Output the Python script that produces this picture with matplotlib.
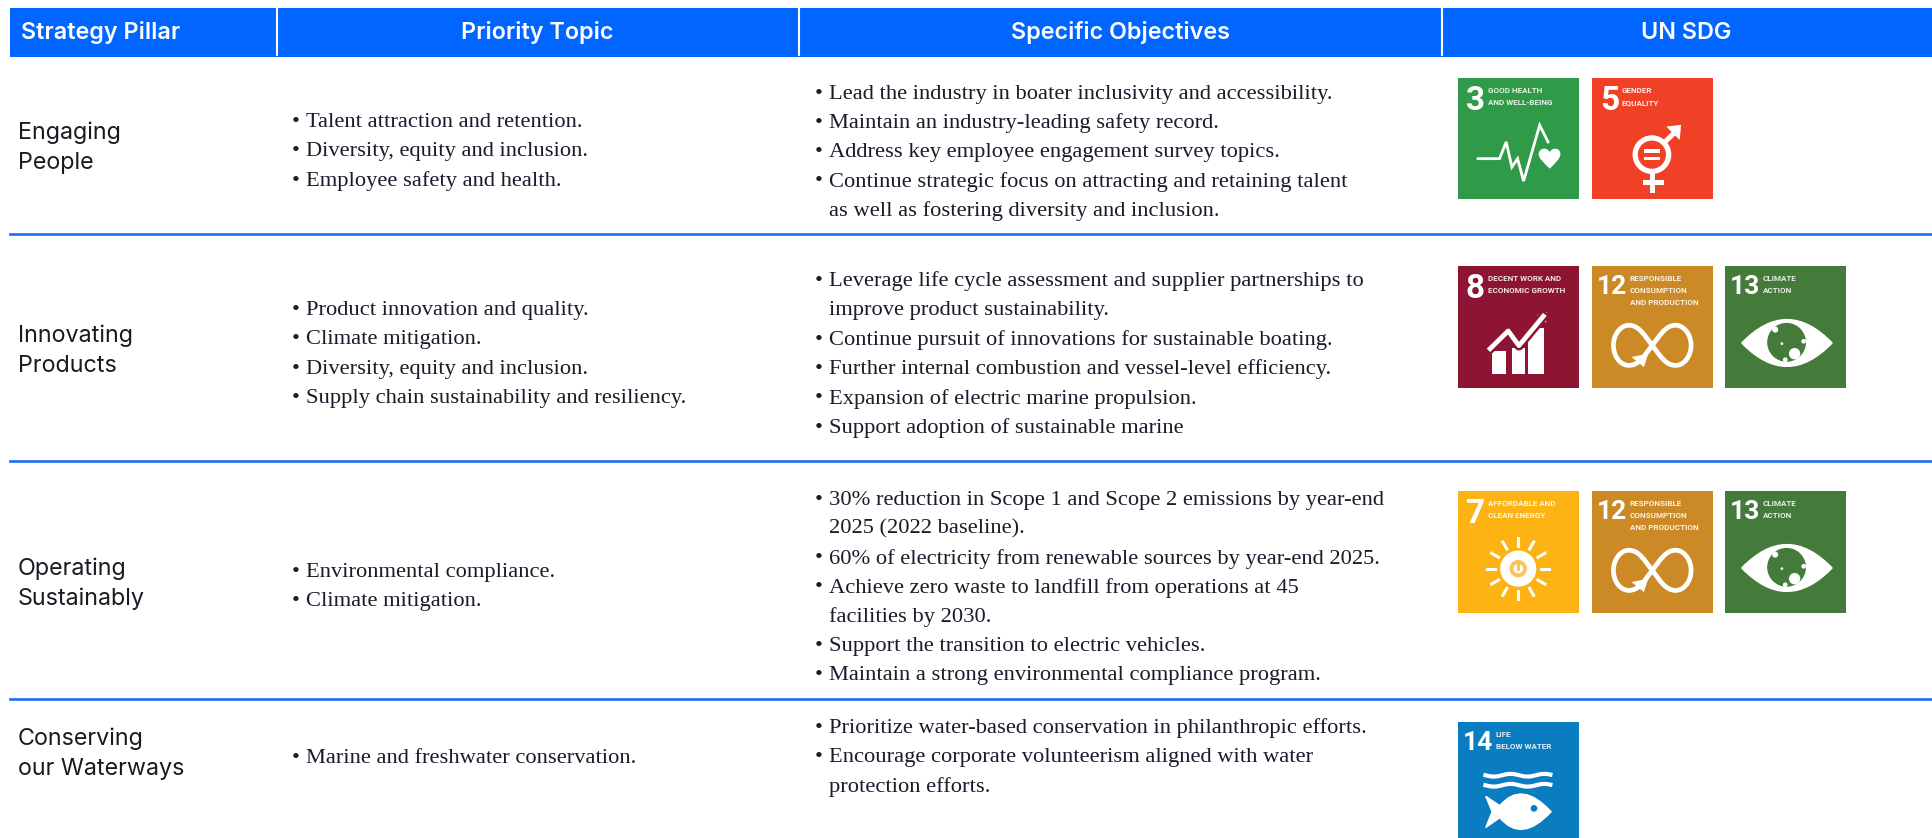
"""UN SDG strategy table, drawn in pixel coordinates of the 1933x838 original."""
import numpy as np
import matplotlib
matplotlib.use("Agg")
import matplotlib.pyplot as plt
from matplotlib.patches import Circle, PathPatch, Polygon, Rectangle
from matplotlib.path import Path
from matplotlib.transforms import Affine2D

W, H = 1933, 838
BLUE = "#0066ff"
INK = "#1b1b2b"
SERIF = "Liberation Serif"
SANS = "Inter"
BODY = 16.2

HEADERS = ["Strategy Pillar", "Priority Topic", "Specific Objectives", "UN SDG"]
PILLARS = [["Engaging", "People"], ["Innovating", "Products"],
           ["Operating", "Sustainably"], ["Conserving", "our Waterways"]]
TOPICS = [
    ["Talent attraction and retention.", "Diversity, equity and inclusion.",
     "Employee safety and health."],
    ["Product innovation and quality.", "Climate mitigation.",
     "Diversity, equity and inclusion.", "Supply chain sustainability and resiliency."],
    ["Environmental compliance.", "Climate mitigation."],
    ["Marine and freshwater conservation."],
]
# a leading "-" marks a wrapped line, with no bullet
OBJECTIVES = [
    ["Lead the industry in boater inclusivity and accessibility.",
     "Maintain an industry-leading safety record.",
     "Address key employee engagement survey topics.",
     "Continue strategic focus on attracting and retaining talent",
     "-as well as fostering diversity and inclusion."],
    ["Leverage life cycle assessment and supplier partnerships to",
     "-improve product sustainability.",
     "Continue pursuit of innovations for sustainable boating.",
     "Further internal combustion and vessel-level efficiency.",
     "Expansion of electric marine propulsion.",
     "Support adoption of sustainable marine"],
    ["30% reduction in Scope 1 and Scope 2 emissions by year-end",
     "-2025 (2022 baseline).",
     "60% of electricity from renewable sources by year-end 2025.",
     "Achieve zero waste to landfill from operations at 45",
     "-facilities by 2030.",
     "Support the transition to electric vehicles.",
     "Maintain a strong environmental compliance program."],
    ["Prioritize water-based conservation in philanthropic efforts.",
     "Encourage corporate volunteerism aligned with water",
     "-protection efforts."],
]
PILLAR_Y = [133, 336, 569, 739]
TOPIC_Y = [122.5, 310.5, 572.5, 758.5]
OBJECTIVE_Y = [94, 281.5, 500, 728.5]
ROW_LINES = [234, 461, 699]
SEPARATORS = [277, 799, 1442]
HEADER_X = [21, 537, 1121, 1686]

SDG_ROWS = [[3, 5], [8, 12, 13], [7, 12, 13], [14]]
SDG_TOP = [78, 266, 491, 722]
SDG_X = [1458, 1592, 1725]
SDG_COLOR = {3: "#2f9a47", 5: "#f04126", 7: "#fdb313", 8: "#8e1433",
             12: "#cb8a26", 13: "#447a3a", 14: "#0a7dc1"}
SDG_TEXT = {3: "GOOD HEALTH\nAND WELL-BEING", 5: "GENDER\nEQUALITY",
            7: "AFFORDABLE AND\nCLEAN ENERGY", 8: "DECENT WORK AND\nECONOMIC GROWTH",
            12: "RESPONSIBLE\nCONSUMPTION\nAND PRODUCTION", 13: "CLIMATE\nACTION",
            14: "LIFE\nBELOW WATER"}

C4 = Path.CURVE4


def icon_health(ax, tr, col):
    ax.plot([60, 124, 144, 161, 178, 196, 244, 269], [241, 241, 191, 266, 241, 308, 141, 191],
            color="white", lw=2, transform=tr, solid_joinstyle="miter")
    pts = [(274, 271), (255, 252), (241, 240), (241, 228), (241, 216), (250, 211), (258, 211),
           (265, 211), (272, 216), (274, 222), (276, 216), (283, 211), (290, 211),
           (298, 211), (306, 216), (306, 228), (306, 240), (293, 252), (274, 271)]
    heart = Path(pts, [Path.MOVETO] + [C4] * 18)
    ax.add_patch(PathPatch(heart, fc="white", ec="none", transform=tr))


def icon_gender(ax, tr, col):
    ax.add_patch(Circle((179, 229), 50, fc="none", ec="white", lw=3.8, transform=tr))
    for y in (218, 240):
        ax.add_patch(Rectangle((155, y - 5), 48, 10, fc="white", transform=tr))
    ax.plot([215, 255], [194, 155], color="white", lw=3.6, transform=tr)
    ax.add_patch(Polygon([[222, 145], [266, 140], [262, 185]], fc="white", transform=tr))
    ax.plot([180, 180], [280, 335], color="white", lw=3.6, transform=tr)
    ax.plot([158, 205], [310, 310], color="white", lw=3.6, transform=tr)


def icon_growth(ax, tr, col):
    for x, top, w in [(103, 255, 40), (160, 245, 40), (208, 185, 48)]:
        ax.add_patch(Rectangle((x, top), w, 322 - top, fc="white", transform=tr))
    ax.plot([96, 150, 182, 255], [247, 194, 238, 150], color=col, lw=7, transform=tr)
    ax.plot([96, 150, 182, 255], [247, 194, 238, 150], color="white", lw=3.4, transform=tr)
    ax.add_patch(Polygon([[236, 147], [266, 137], [263, 170]], fc="white", transform=tr))


def icon_infinity(ax, tr, col):
    pts = [(180, 237), (155, 205), (140, 177), (110, 177), (85, 177), (64, 205), (64, 237),
           (64, 270), (85, 297), (110, 297), (140, 297), (155, 270), (180, 237),
           (205, 205), (220, 177), (250, 177), (275, 177), (296, 205), (296, 237),
           (296, 270), (275, 297), (250, 297), (220, 297), (205, 270), (180, 237)]
    ax.add_patch(PathPatch(Path(pts, [Path.MOVETO] + [C4] * 24), fc="none", ec="white",
                           lw=3.4, transform=tr))
    ax.add_patch(Polygon([[118, 272], [168, 262], [155, 302]], fc="white", transform=tr))


def icon_eye(ax, tr, col):
    pts = [(50, 230), (185, 90), (320, 230), (185, 370), (50, 230)]
    codes = [Path.MOVETO, Path.CURVE3, Path.CURVE3, Path.CURVE3, Path.CURVE3]
    ax.add_patch(PathPatch(Path(pts, codes), fc="white", ec="white", transform=tr))
    ax.add_patch(Circle((184, 228), 58, fc=col, transform=tr))
    for x, y, r in [(208, 262, 17), (150, 190, 9), (235, 225, 7), (180, 280, 7), (170, 232, 4)]:
        ax.add_patch(Circle((x, y), r, fc="white", transform=tr))


def icon_sun(ax, tr, col):
    ax.add_patch(Circle((180, 232), 54, fc="white", transform=tr))
    ax.add_patch(Circle((180, 232), 26, fc="#fbc35a", ec="none", transform=tr))
    ax.add_patch(Circle((180, 232), 14, fc="white", ec="none", transform=tr))
    ax.plot([180, 180], [212, 232], color="#fbc35a", lw=2.2, transform=tr)
    for a in np.deg2rad(np.arange(0, 360, 30)):
        ax.plot([180 + 68 * np.cos(a), 180 + 92 * np.cos(a)],
                [232 + 68 * np.sin(a), 232 + 92 * np.sin(a)],
                color="white", lw=2.2, transform=tr)


def icon_fish(ax, tr, col):
    wave = np.linspace(82, 276, 60)
    for y in (159, 189):
        ax.plot(wave, y + 4 * np.sin((wave - 82) / 16), color="white", lw=3, transform=tr)
    pts = [(83, 222), (125, 250), (190, 172), (278, 268), (190, 364), (125, 286), (83, 315), (102, 268), (83, 222)]
    codes = [Path.MOVETO, Path.LINETO, Path.CURVE3, Path.CURVE3, Path.CURVE3, Path.CURVE3,
             Path.LINETO, Path.LINETO, Path.LINETO]
    ax.add_patch(PathPatch(Path(pts, codes), fc="white", ec="white", transform=tr))
    ax.add_patch(Circle((227, 258), 10, fc=col, transform=tr))


ICONS = {3: icon_health, 5: icon_gender, 7: icon_sun, 8: icon_growth,
         12: icon_infinity, 13: icon_eye, 14: icon_fish}


def draw_tile(ax, n, x0, y0):
    size = 121.5
    col = SDG_COLOR[n]
    ax.add_patch(Rectangle((x0, y0), size, size, fc=col, ec="none"))
    two = n > 9
    ax.text(x0 + (5 if two else 8), y0 + (9 if two else 7), str(n), color="white",
            fontsize=19 if two else 24, va="top", family="Roboto", fontweight="bold")
    ax.text(x0 + (38 if two else 30), y0 + 9, SDG_TEXT[n], color="white", fontsize=5.8,
            va="top", family="Roboto", fontweight="bold", linespacing=1.8, alpha=0.88)
    tr = Affine2D().scale(size / 363).translate(x0, y0) + ax.transData
    ICONS[n](ax, tr, col)


fig = plt.figure(figsize=(W / 100, H / 100), dpi=100)
ax = fig.add_axes([0, 0, 1, 1])
ax.set_xlim(0, W)
ax.set_ylim(H, 0)
ax.axis("off")

ax.add_patch(Rectangle((10, 8), W - 10, 49.5, fc=BLUE, ec="none"))
for x in SEPARATORS:
    ax.plot([x, x], [8, 55], color="white", lw=1.5)
for i, (label, x) in enumerate(zip(HEADERS, HEADER_X)):
    ax.text(x, 33, label, color="white", fontsize=16.8, family=SANS, fontweight="semibold",
            ha="left" if i == 0 else "center", va="center")
for y in ROW_LINES:
    ax.plot([10, W], [y, y], color="#1a6cf5", lw=1.9)

for r, lines in enumerate(PILLARS):
    for i, s in enumerate(lines):
        ax.text(18, PILLAR_Y[r] + i * 29.5, s, color="#1a1a22", fontsize=16.8, family=SANS, va="center")

for r, lines in enumerate(TOPICS):
    for i, s in enumerate(lines):
        y = TOPIC_Y[r] + i * 29.3
        ax.text(292, y, "•", color=INK, fontsize=BODY, family=SERIF, va="center")
        ax.text(306, y, s, color=INK, fontsize=BODY, family=SERIF, va="center")

for r, lines in enumerate(OBJECTIVES):
    for i, s in enumerate(lines):
        y = OBJECTIVE_Y[r] + i * 29.3
        if not s.startswith("-"):
            ax.text(815, y, "•", color=INK, fontsize=BODY, family=SERIF, va="center")
        ax.text(829, y, s.lstrip("-"), color=INK, fontsize=BODY, family=SERIF, va="center")

for r, tiles in enumerate(SDG_ROWS):
    for x0, n in zip(SDG_X, tiles):
        draw_tile(ax, n, x0, SDG_TOP[r])

fig.savefig("out.png", dpi=100, facecolor="white")
plt.close(fig)
